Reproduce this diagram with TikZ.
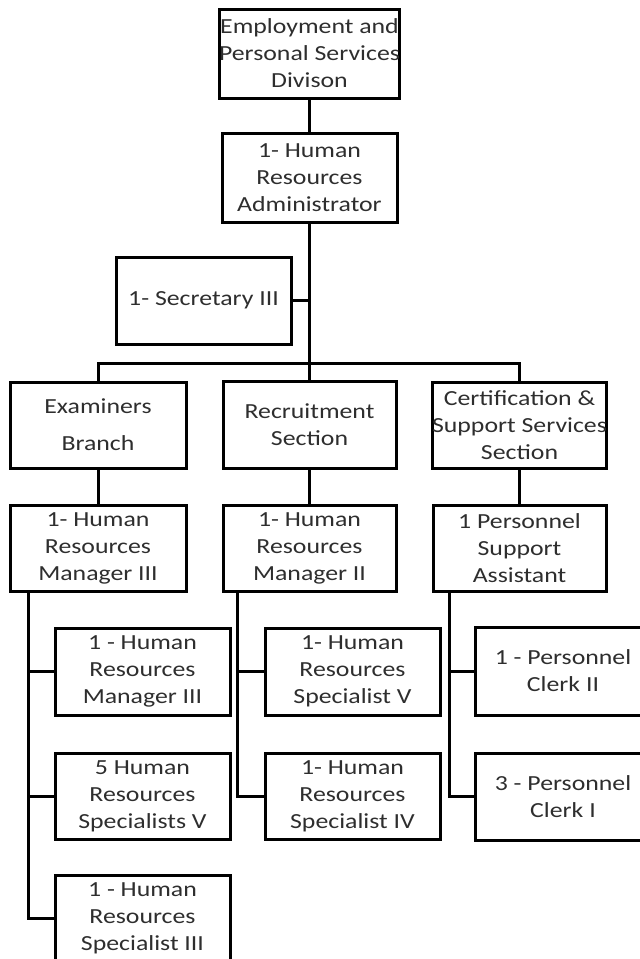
\documentclass[tikz,border=0pt]{standalone}
\usepackage{fontspec}
\setmainfont{Carlito}[FakeStretch=1.2]
\begin{document}
\begin{tikzpicture}[x=1pt,y=-1pt,
  box/.style={draw, line width=3pt, rectangle, inner sep=0pt, align=center,
    text=black!82, font=\fontsize{21.5}{27}\selectfont,
    minimum width=175pt, minimum height=87pt},
  link/.style={line width=3pt}]
\useasboundingbox (0,0) rectangle (640,959);
\clip (0,0) rectangle (640,959);

% top of the chart
\node[box, minimum height=89pt] (div) at (309.5,53.5) {Employment and\\Personal Services\\Divison};
\node[box, minimum height=89pt] (hra) at (309.5,177.5) {1- Human\\Resources\\Administrator};
\node[box] (sec) at (203.5,300.5) {1- Secretary III};

% branches and sections
\node[box, minimum width=176pt, minimum height=86pt] (exb) at (98,425) {Examiners\\[10pt]Branch};
\node[box, minimum width=173pt] (rec) at (309.5,424.5) {Recruitment\\Section};
\node[box, minimum width=173pt, minimum height=86pt] (cert) at (519.5,425) {Certification \&\\Support Services\\Section};

% heads of each unit
\node[box, minimum width=176pt, minimum height=86pt] (m3) at (98,548) {1- Human\\Resources\\Manager III};
\node[box, minimum width=173pt, minimum height=86pt] (m2) at (309.5,548) {1- Human\\Resources\\Manager II};
\node[box, minimum width=173pt, minimum height=86pt] (psa) at (519.5,548) {1 Personnel\\Support\\Assistant};

% staff under the Examiners Branch
\node[box] (a1) at (142.5,671.5) {1 - Human\\Resources\\Manager III};
\node[box, minimum height=86pt] (a2) at (142.5,796) {5 Human\\Resources\\Specialists V};
\node[box, minimum height=86pt] (a3) at (142.5,918) {1 - Human\\Resources\\Specialist III};

% staff under the Recruitment Section
\node[box] (b1) at (352.5,671.5) {1- Human\\Resources\\Specialist V};
\node[box, minimum height=86pt] (b2) at (352.5,796) {1- Human\\Resources\\Specialist IV};

% staff under Certification & Support Services
\node[box, minimum width=176pt, minimum height=88pt] (c1) at (563,671) {1 - Personnel\\Clerk II};
\node[box, minimum width=176pt] (c2) at (563,796.5) {3 - Personnel\\Clerk I};

% connectors
\coordinate (bus) at (309.5,363);
\draw[link] (div) -- (hra);
\draw[link] (hra.south) -- (bus);
\draw[link] (sec.east) -- (sec.east -| hra.south);
\draw[link] (exb.north) |- (bus) -| (cert.north);
\draw[link] (rec.north) -- (bus);

\draw[link] (exb) -- (m3);
\draw[link] (rec) -- (m2);
\draw[link] (cert) -- (psa);

\coordinate (m3s) at ([xshift=20pt]m3.south west);
\draw[link] (m3s) |- (a1.west);
\draw[link] (m3s) |- (a2.west);
\draw[link] (m3s) |- (a3.west);

\coordinate (m2s) at ([xshift=16pt]m2.south west);
\draw[link] (m2s) |- (b1.west);
\draw[link] (m2s) |- (b2.west);

\coordinate (psas) at ([xshift=18pt]psa.south west);
\draw[link] (psas) |- (c1.west);
\draw[link] (psas) |- (c2.west);
\end{tikzpicture}
\end{document}
